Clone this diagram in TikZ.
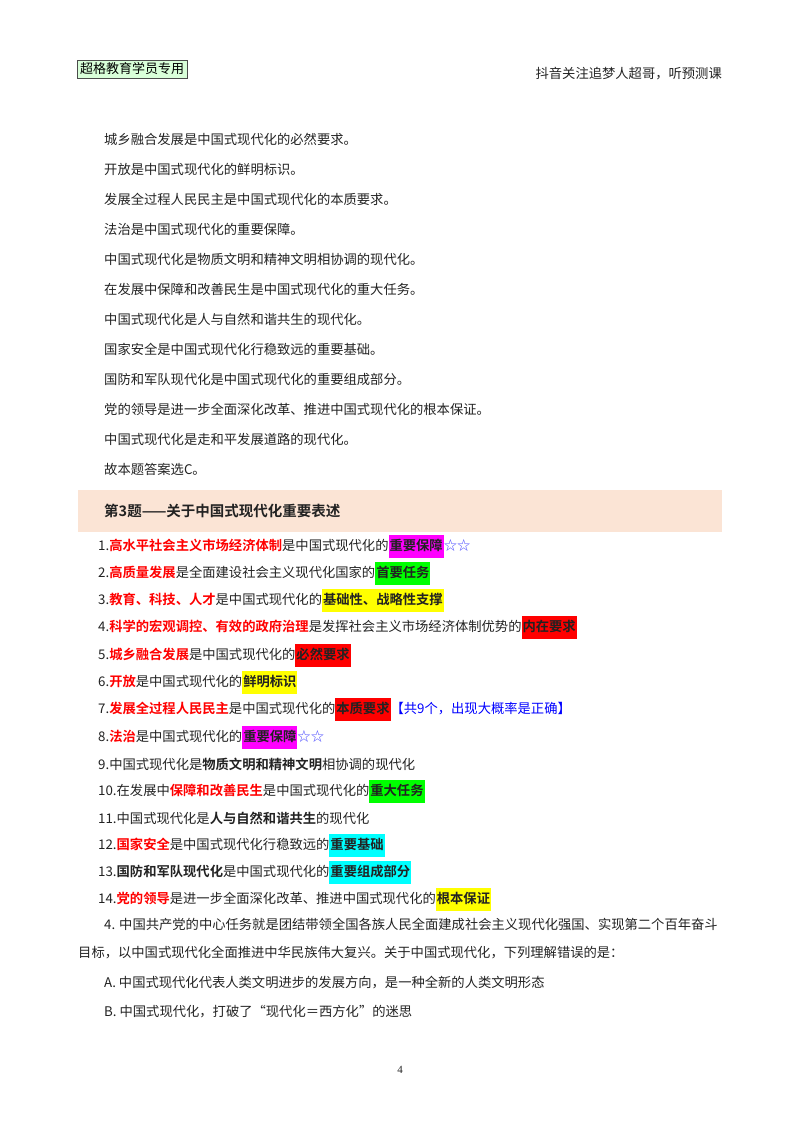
\documentclass[tikz,border=0pt]{standalone}
\usepackage{fontspec}
\setmainfont{Liberation Serif}
\newfontfamily\cjk{Noto Sans CJK SC}[BoldFont={Noto Sans CJK SC Bold}]
\definecolor{hdr}{HTML}{FBE4D5}
\definecolor{red1}{HTML}{FF0000}
\definecolor{mag}{HTML}{FF00FF}
\definecolor{grn}{HTML}{00FF00}
\definecolor{yel}{HTML}{FFFF00}
\definecolor{cya}{HTML}{00FFFF}
\definecolor{txt}{HTML}{222222}
\newcommand{\hlb}[2]{{\setlength{\fboxsep}{1pt}\colorbox{#1}{\rule[-6pt]{0pt}{21pt}\textbf{#2}}}}
\newcommand{\rb}[1]{\textcolor{red1}{\textbf{#1}}}
\newcommand{\stars}{\textcolor{blue!70}{☆☆}}
\begin{document}
\begin{tikzpicture}[x=1pt,y=-1pt,
  t/.style={anchor=west,inner sep=0pt,font=\fontsize{13.3}{16}\cjk,text=txt}]
\useasboundingbox (0,0) rectangle (800,1132);
\node[anchor=west,draw=black!70,fill=green!15,inner sep=3pt,font=\fontsize{13}{14}\cjk] (tag) at (77,69) {超格教育学员专用};
\node[t,anchor=east] (tr) at (722,74) {抖音关注追梦人超哥，听预测课};
\foreach \s [count=\i] in {城乡融合发展是中国式现代化的必然要求。,开放是中国式现代化的鲜明标识。,发展全过程人民民主是中国式现代化的本质要求。,法治是中国式现代化的重要保障。,中国式现代化是物质文明和精神文明相协调的现代化。,在发展中保障和改善民生是中国式现代化的重大任务。,中国式现代化是人与自然和谐共生的现代化。,国家安全是中国式现代化行稳致远的重要基础。,国防和军队现代化是中国式现代化的重要组成部分。,党的领导是进一步全面深化改革、推进中国式现代化的根本保证。,中国式现代化是走和平发展道路的现代化。,故本题答案选C。}
  \node[t] (p\i) at (104,{139+(\i-1)*30}) {\s};
\fill[hdr] (78,490) rectangle (722,532);
\node[t,font=\fontsize{14.5}{16}\cjk\bfseries] (h) at (104,511) {第3题——关于中国式现代化重要表述};
\node[t] (l1) at (98,546) {1.\rb{高水平社会主义市场经济体制}是中国式现代化的\hlb{mag}{重要保障}\stars};
\node[t] (l2) at (98,573) {2.\rb{高质量发展}是全面建设社会主义现代化国家的\hlb{grn}{首要任务}};
\node[t] (l3) at (98,600) {3.\rb{教育、科技、人才}是中国式现代化的\hlb{yel}{基础性、战略性支撑}};
\node[t] (l4) at (98,627) {4.\rb{科学的宏观调控、有效的政府治理}是发挥社会主义市场经济体制优势的\hlb{red1}{内在要求}};
\node[t] (l5) at (98,655) {5.\rb{城乡融合发展}是中国式现代化的\hlb{red1}{必然要求}};
\node[t] (l6) at (98,682) {6.\rb{开放}是中国式现代化的\hlb{yel}{鲜明标识}};
\node[t] (l7) at (98,709) {7.\rb{发展全过程人民民主}是中国式现代化的\hlb{red1}{本质要求}\textcolor{blue}{【共9个，出现大概率是正确】}};
\node[t] (l8) at (98,737) {8.\rb{法治}是中国式现代化的\hlb{mag}{重要保障}\stars};
\node[t] (l9) at (98,764) {9.中国式现代化是\textbf{物质文明和精神文明}相协调的现代化};
\node[t] (l10) at (98,791) {10.在发展中\rb{保障和改善民生}是中国式现代化的\hlb{grn}{重大任务}};
\node[t] (l11) at (98,818) {11.中国式现代化是\textbf{人与自然和谐共生}的现代化};
\node[t] (l12) at (98,845) {12.\rb{国家安全}是中国式现代化行稳致远的\hlb{cya}{重要基础}};
\node[t] (l13) at (98,872) {13.\textbf{国防和军队现代化}是中国式现代化的\hlb{cya}{重要组成部分}};
\node[t] (l14) at (98,899) {14.\rb{党的领导}是进一步全面深化改革、推进中国式现代化的\hlb{yel}{根本保证}};
\node[t] (q1) at (104,924) {4. 中国共产党的中心任务就是团结带领全国各族人民全面建成社会主义现代化强国、实现第二个百年奋斗};
\node[t] (q2) at (78,953) {目标，以中国式现代化全面推进中华民族伟大复兴。关于中国式现代化，下列理解错误的是：};
\node[t] (qa) at (104,983) {A. 中国式现代化代表人类文明进步的发展方向，是一种全新的人类文明形态};
\node[t] (qb) at (104,1012) {B. 中国式现代化，打破了“现代化＝西方化”的迷思};
\node[t,anchor=center,font=\fontsize{11}{12}\selectfont] (pg) at (400,1070) {4};
\end{tikzpicture}
\end{document}
